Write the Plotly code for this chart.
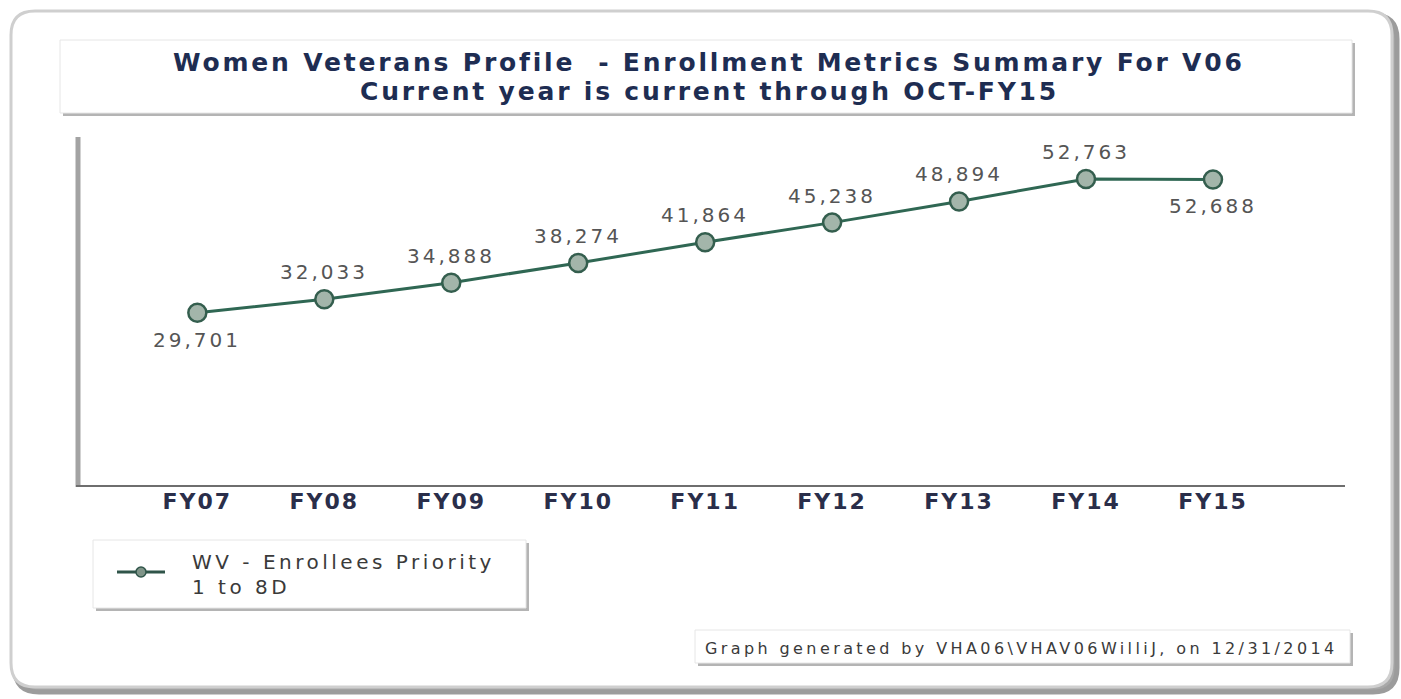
import plotly.graph_objects as go

# Enrollment data
years = ["FY07", "FY08", "FY09", "FY10", "FY11", "FY12", "FY13", "FY14", "FY15"]
enrollees = [29701, 32033, 34888, 38274, 41864, 45238, 48894, 52763, 52688]
label_side = ["below", "above", "above", "above", "above", "above", "above", "above", "below"]

series_name = ["WV - Enrollees Priority", "1 to 8D"]
title_lines = ["Women Veterans Profile  - Enrollment Metrics Summary For V06",
               "Current year is current through OCT-FY15"]
footer = "Graph generated by VHA06\\VHAV06WilliJ, on 12/31/2014"

W, H = 1401, 699
L, R, T, B = 78, 1345, 137, 485   # plot area in pixels


def px(x):
    return (x - L) / (R - L)


def py(y):
    return (B - y) / (B - T)


def spaced(text, gap):
    return f'<span style="letter-spacing:{gap}px">{text}</span>'


def rrect(x0, y0, x1, y1, r):
    a0, a1 = px(x0), px(x1)
    b0, b1 = py(y0), py(y1)
    rx = r / (R - L)
    ry = r / (B - T)
    return (f"M{a0 + rx},{b0} L{a1 - rx},{b0} Q{a1},{b0} {a1},{b0 - ry} "
            f"L{a1},{b1 + ry} Q{a1},{b1} {a1 - rx},{b1} L{a0 + rx},{b1} "
            f"Q{a0},{b1} {a0},{b1 + ry} L{a0},{b0 - ry} Q{a0},{b0} {a0 + rx},{b0} Z")


shapes = []
# outer frame with drop shadow
shapes.append(dict(type="path", xref="paper", yref="paper", path=rrect(15, 15, 1397, 692, 24),
                   line=dict(color="#9C9C9C", width=5), fillcolor="#A8A8A8", layer="below"))
shapes.append(dict(type="path", xref="paper", yref="paper", path=rrect(11, 11, 1392, 687, 24),
                   line=dict(color="#CFCFCF", width=3), fillcolor="white", layer="below"))


def box(x0, y0, x1, y1):
    shapes.append(dict(type="rect", xref="paper", yref="paper",
                       x0=px(x0 + 3), x1=px(x1 + 3), y0=py(y0 + 3), y1=py(y1 + 3),
                       line=dict(width=0), fillcolor="#B4B4B4", layer="below"))
    shapes.append(dict(type="rect", xref="paper", yref="paper",
                       x0=px(x0), x1=px(x1), y0=py(y0), y1=py(y1),
                       line=dict(color="#E6E6E6", width=1), fillcolor="white", layer="below"))


box(60, 40, 1352, 113)      # title panel
box(93, 540, 526, 608)      # legend panel
box(695, 630, 1350, 663)    # footer panel

# axis lines
shapes.append(dict(type="line", xref="paper", yref="paper", x0=px(78), x1=px(78), y0=py(137), y1=py(487),
                   line=dict(color="#A3A3A3", width=5)))
shapes.append(dict(type="line", xref="paper", yref="paper", x0=px(76), x1=px(1345), y0=py(486), y1=py(486),
                   line=dict(color="#6E6E6E", width=2)))

# legend glyph
shapes.append(dict(type="line", xref="paper", yref="paper", x0=px(117), x1=px(165), y0=py(572), y1=py(572),
                   line=dict(color="#2F5449", width=3)))
shapes.append(dict(type="circle", xref="paper", yref="paper", x0=px(136), x1=px(146), y0=py(567), y1=py(577),
                   line=dict(color="#2F5449", width=1.5), fillcolor="#7F9488"))

fig = go.Figure()
fig.add_trace(go.Scatter(
    x=years, y=enrollees, mode="lines+markers",
    line=dict(color="#2F6753", width=3),
    marker=dict(size=18, color="#A3B5AA", line=dict(color="#345E4E", width=2.5)),
    showlegend=False, hoverinfo="skip",
))

annotations = []
for yr, v, side in zip(years, enrollees, label_side):
    annotations.append(dict(x=yr, y=v, xref="x", yref="y", text=spaced(f"{v:,}", 3), showarrow=False,
                            yshift=27 if side == "above" else -27,
                            font=dict(family="DejaVu Sans", size=20, color="#555555")))

title_font = dict(family="DejaVu Sans", size=25, color="#1E2D52", weight="bold")
for line, yy in zip(title_lines, [62, 92]):
    annotations.append(dict(x=px(709), y=py(yy), xref="paper", yref="paper", text=spaced(line, 2.8),
                            showarrow=False, xanchor="center", yanchor="middle", font=title_font))

legend_font = dict(family="DejaVu Sans", size=20, color="#3A3A3A")
for line, yy in zip(series_name, [562, 587]):
    annotations.append(dict(x=px(190), y=py(yy), xref="paper", yref="paper", text=spaced(line, 3.5),
                            showarrow=False, xanchor="left", yanchor="middle", font=legend_font))
annotations.append(dict(x=px(1340), y=py(648), xref="paper", yref="paper", text=spaced(footer, 3.4),
                        showarrow=False, xanchor="right", yanchor="middle",
                        font=dict(family="DejaVu Sans", size=16, color="#3A3A3A")))

fig.update_layout(
    width=W, height=H,
    margin=dict(l=L, r=W - R, t=T, b=H - B),
    paper_bgcolor="white", plot_bgcolor="rgba(0,0,0,0)",
    shapes=shapes, annotations=annotations,
    xaxis=dict(type="category", range=[-0.94, 9.04], showgrid=False, zeroline=False, showline=False,
               ticks="", tickmode="array", tickvals=years, ticktext=[spaced(y, 2) for y in years],
               tickfont=dict(family="DejaVu Sans", size=22, color="#2A2E4A", weight="bold"),
               ticklabelstandoff=1),
    yaxis=dict(range=[0, 60000], showgrid=False, zeroline=False, showline=False, showticklabels=False,
               ticks=""),
)

fig.write_html("out.html")
